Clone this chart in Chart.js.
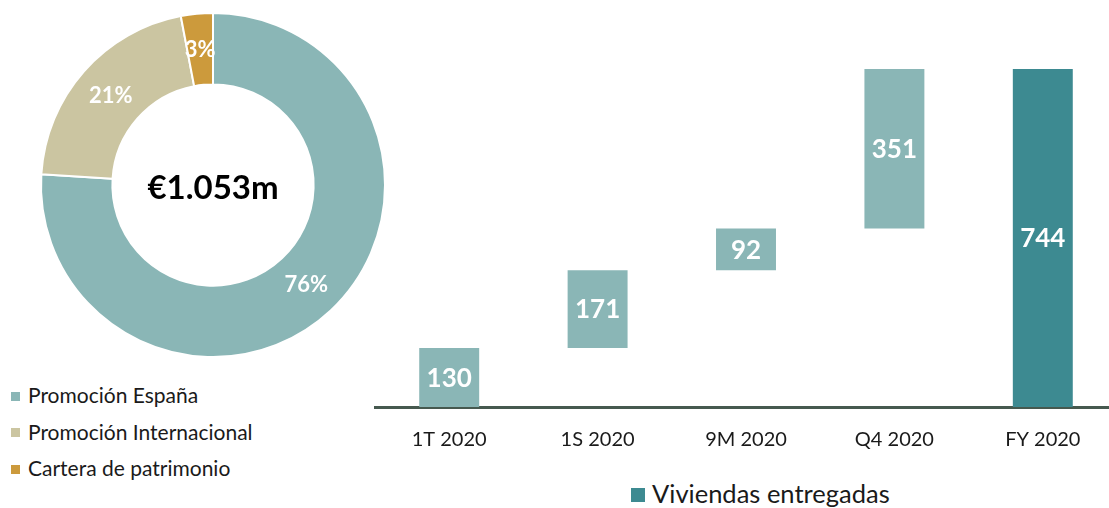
<!DOCTYPE html>
<html>
<head>
<meta charset="utf-8">
<script src="https://cdn.jsdelivr.net/npm/chart.js@4"></script>
<style>
  html, body { margin: 0; padding: 0; background: #fff; overflow: hidden; }
  body { width: 1109px; height: 508px; position: relative; font-family: Lato, sans-serif; }
  #tartaBox { position: absolute; left: 0; top: 0; width: 426px; height: 370px; }
  #barrasBox { position: absolute; left: 360px; top: 0; width: 770px; height: 460px; }
  .leyenda { position: absolute; color: #1a1a1a; }
  .leyenda div { position: relative; white-space: nowrap; }
  .leyenda span.cuadro { display: inline-block; vertical-align: middle; }
  #leyendaTarta { left: 11px; top: 382px; font-size: 21px; }
  #leyendaTarta div { height: 36.5px; line-height: 26px; }
  #leyendaTarta span.cuadro { width: 9px; height: 9px; margin-right: 8px; margin-top: -3px; }
  #leyendaBarras { left: 631px; top: 478px; font-size: 25.5px; line-height: 30px; }
  #leyendaBarras span.cuadro { width: 14px; height: 14px; margin-right: 7px; margin-top: -3px; }
</style>
</head>
<body>
<div id="tartaBox"><canvas id="tarta"></canvas></div>
<div id="barrasBox"><canvas id="barras"></canvas></div>
<div id="leyendaTarta" class="leyenda"></div>
<div id="leyendaBarras" class="leyenda"></div>
<script>
// datos de la tarta
var segmentos = ["Promoción España", "Promoción Internacional", "Cartera de patrimonio"];
var porcentajes = [76, 21, 3];
var coloresTarta = ["#8AB6B6", "#CBC5A1", "#CC9A3C"];
var textoCentro = "€1.053m";

// datos de las barras (cascada)
var periodos = ["1T 2020", "1S 2020", "9M 2020", "Q4 2020", "FY 2020"];
var viviendas = [130, 171, 92, 351, 744];
var esTotal = [false, false, false, false, true];
var nombreSerie = "Viviendas entregadas";

var fuente = "Lato, sans-serif";

/**
 * Etiquetas blancas dentro de cada elemento
 */
var etiquetas = {
    id: "etiquetas",
    afterDatasetsDraw: function (chart, args, opts) {
        var ctx = chart.ctx;
        var meta = chart.getDatasetMeta(0);
        ctx.save();
        ctx.fillStyle = "#fff";
        ctx.font = "bold " + opts.size + "px " + fuente;
        ctx.textAlign = "center";
        ctx.textBaseline = "middle";
        meta.data.forEach(function (el, i) {
            var p;
            if (chart.config.type === "doughnut") {
                p = el.tooltipPosition();
            } else {
                p = { x: el.x, y: (el.y + el.base) / 2 };
            }
            ctx.fillText(opts.texto(i), p.x, p.y + 1);
        });
        if (opts.centro) {
            var a = chart.chartArea;
            ctx.fillStyle = "#000";
            ctx.font = "bold 33px " + fuente;
            ctx.fillText(opts.centro, (a.left + a.right) / 2, (a.top + a.bottom) / 2 + 3);
        }
        ctx.restore();
    }
};

function cargaGraficoTarta() {
    new Chart(document.getElementById("tarta").getContext("2d"), {
        type: "doughnut",
        data: {
            labels: segmentos,
            datasets: [{
                data: porcentajes,
                backgroundColor: coloresTarta,
                borderColor: "#fff",
                borderWidth: 2
            }]
        },
        options: {
            responsive: true,
            maintainAspectRatio: false,
            animation: false,
            cutout: "58.5%",
            layout: { padding: { top: 12, bottom: 12 } },
            plugins: {
                legend: { display: false },
                tooltip: { enabled: false },
                etiquetas: {
                    size: 22,
                    texto: function (i) { return porcentajes[i] + "%"; },
                    centro: textoCentro
                }
            }
        },
        plugins: [etiquetas]
    });

    var ley = document.getElementById("leyendaTarta");
    segmentos.forEach(function (s, i) {
        var d = document.createElement("div");
        d.innerHTML = '<span class="cuadro" style="background:' + coloresTarta[i] + '"></span>' + s;
        ley.appendChild(d);
    });
}

function cargaGraficoBarras() {
    // cada barra flota desde el acumulado anterior; el total parte de cero
    var tramos = [];
    var acumulado = 0;
    viviendas.forEach(function (v, i) {
        if (esTotal[i]) {
            tramos.push([0, v]);
        } else {
            tramos.push([acumulado, acumulado + v]);
            acumulado += v;
        }
    });
    var colores = esTotal.map(function (t) { return t ? "#3D8A91" : "#8AB6B6"; });

    new Chart(document.getElementById("barras").getContext("2d"), {
        type: "bar",
        data: {
            labels: periodos,
            datasets: [{
                label: nombreSerie,
                data: tramos,
                backgroundColor: colores,
                borderWidth: 0,
                barPercentage: 0.404,
                categoryPercentage: 1
            }]
        },
        options: {
            responsive: true,
            maintainAspectRatio: false,
            animation: false,
            layout: { padding: { left: 15, right: 13, top: 69 } },
            scales: {
                x: {
                    grid: { display: false },
                    border: { display: true, color: "#46594F", width: 3 },
                    ticks: { color: "#1a1a1a", font: { family: fuente, size: 20 }, padding: 13 },
                    afterFit: function (scale) { scale.height = 53; }
                },
                y: { display: false, min: 0, max: 744 }
            },
            plugins: {
                legend: { display: false },
                tooltip: { enabled: false },
                etiquetas: {
                    size: 26,
                    texto: function (i) { return viviendas[i]; }
                }
            }
        },
        plugins: [etiquetas]
    });

    document.getElementById("leyendaBarras").innerHTML =
        '<span class="cuadro" style="background:#3D8A91"></span>' + nombreSerie;
}

cargaGraficoTarta();
cargaGraficoBarras();
</script>
</body>
</html>
